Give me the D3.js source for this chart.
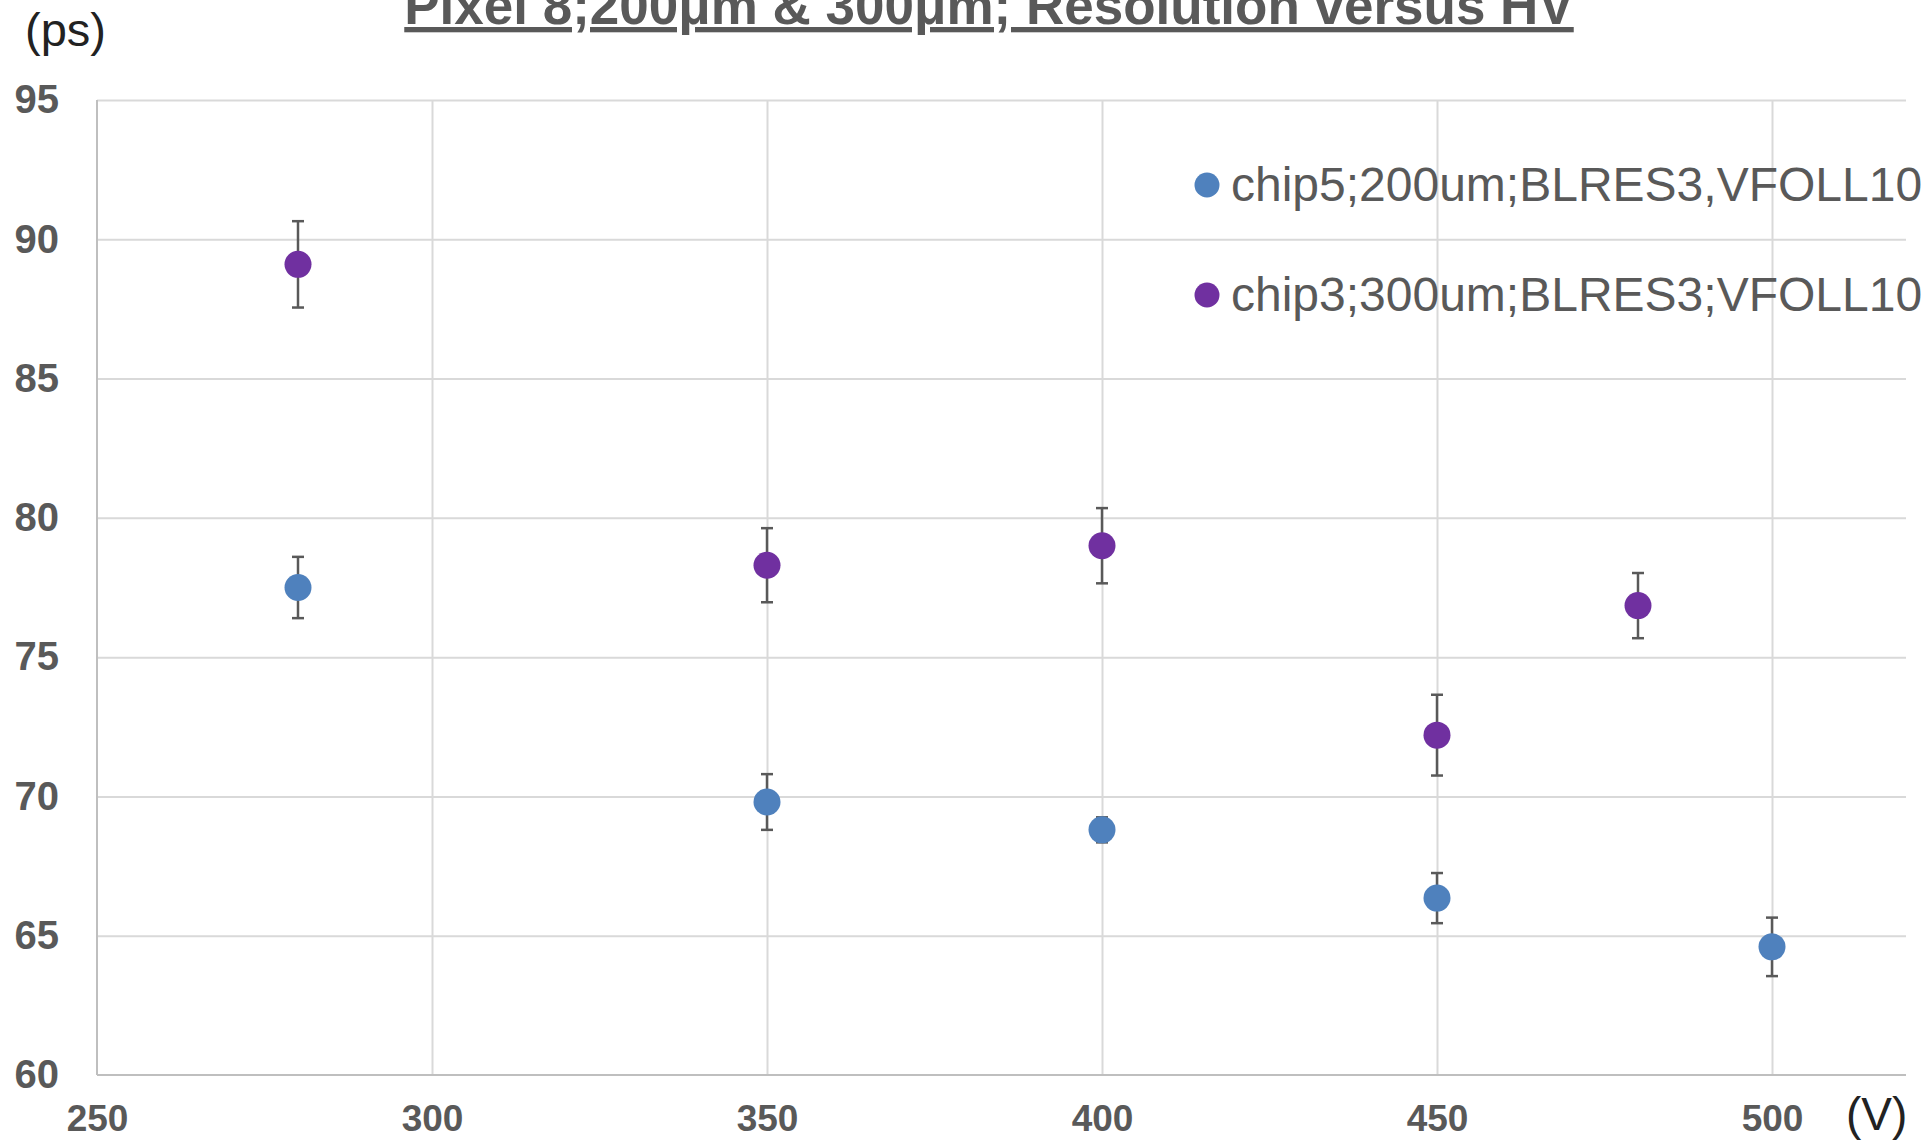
<!DOCTYPE html>
<html>
<head>
<meta charset="utf-8">
<script src="https://cdn.jsdelivr.net/npm/d3@7"></script>
<style>
    body { margin: 0; background: #fff; }
    svg { display: block; font-family: "Liberation Sans", Arial, sans-serif; }
</style>
</head>
<body>
<svg id="chart"></svg>
<script>
// time resolution (ps) vs bias voltage (V)
const hv200 = [280, 350, 400, 450, 500];
const res200 = [77.5, 69.8, 68.8, 66.35, 64.6];
const err200 = [1.1, 1.0, 0.45, 0.9, 1.05];

const hv300 = [280, 350, 400, 450, 480];
const res300 = [89.1, 78.3, 79.0, 72.2, 76.85];
const err300 = [1.55, 1.33, 1.35, 1.45, 1.17];

const seriesNames = ["chip5;200um;BLRES3,VFOLL10", "chip3;300um;BLRES3;VFOLL10"];
const seriesColors = ["#4f81bd", "#7030a0"];

const xTicks = [250, 300, 350, 400, 450, 500];
const yTicks = [60, 65, 70, 75, 80, 85, 90, 95];

const titleText = "Pixel 8;200\u03bcm & 300\u03bcm; Resolution versus HV";

var width = 1931, height = 1141;
var margin = {top: 100, right: 25, bottom: 66, left: 97};

var svg = d3.select("#chart")
    .attr("width", width)
    .attr("height", height);

var x = d3.scaleLinear().domain([250, 520]).range([margin.left, width - margin.right]);
var y = d3.scaleLinear().domain([60, 95]).range([height - margin.bottom, margin.top]);

// gridlines
var gridY = svg.append("g")
    .attr("transform", "translate(" + margin.left + ",0)")
    .call(d3.axisLeft(y).tickValues(yTicks.slice(1)).tickSize(-(width - margin.left - margin.right)).tickFormat(""));
var gridX = svg.append("g")
    .attr("transform", "translate(0," + (height - margin.bottom) + ")")
    .call(d3.axisBottom(x).tickValues(xTicks.slice(1)).tickSize(-(height - margin.top - margin.bottom)).tickFormat(""));
[gridY, gridX].forEach(function(g) {
    g.select(".domain").remove();
    g.selectAll("line").attr("stroke", "#d9d9d9").attr("stroke-width", 2);
});

// axis lines
svg.append("line")
    .attr("x1", x(250)).attr("x2", x(250))
    .attr("y1", y(95)).attr("y2", y(60))
    .attr("stroke", "#bfbfbf").attr("stroke-width", 2);
svg.append("line")
    .attr("x1", x(250)).attr("x2", x(520))
    .attr("y1", y(60)).attr("y2", y(60))
    .attr("stroke", "#bfbfbf").attr("stroke-width", 2);

// tick labels
var yAxis = svg.append("g")
    .attr("transform", "translate(" + margin.left + ",0)")
    .call(d3.axisLeft(y).tickValues(yTicks).tickSize(0).tickPadding(38));
var xAxis = svg.append("g")
    .attr("transform", "translate(0," + (height - margin.bottom) + ")")
    .call(d3.axisBottom(x).tickValues(xTicks).tickSize(0));
xAxis.selectAll("text").attr("y", 56).attr("dy", 0);
[yAxis, xAxis].forEach(function(g) {
    g.select(".domain").remove();
    g.selectAll("text")
        .attr("fill", "#595959")
        .style("font-family", "Liberation Sans, Arial, sans-serif")
        .style("font-weight", "bold");
});
yAxis.selectAll("text").style("font-size", "40px");
xAxis.selectAll("text").style("font-size", "37px");

// unit labels
svg.append("text")
    .attr("x", 25).attr("y", 46)
    .attr("fill", "#222")
    .style("font-size", "47px")
    .text("(ps)");
svg.append("text")
    .attr("x", 1846).attr("y", 1130)
    .attr("fill", "#222")
    .style("font-size", "46px")
    .text("(V)");

// title (top is cut off in the original)
svg.append("text")
    .attr("x", 989).attr("y", 24)
    .attr("text-anchor", "middle")
    .attr("fill", "#595959")
    .style("font-size", "53px")
    .style("font-weight", "bold")
    .style("text-decoration", "underline")
    .text(titleText);

// points with error bars
var series = [
    {hv: hv200, res: res200, err: err200},
    {hv: hv300, res: res300, err: err300}
];

series.forEach(function(s, i) {
    var pts = s.hv.map(function(v, j) { return {hv: v, res: s.res[j], err: s.err[j]}; });
    var g = svg.append("g");

    var bars = g.selectAll(".bar").data(pts).enter().append("g")
        .attr("stroke", "#595959")
        .attr("stroke-width", 2.5);
    bars.append("line")
        .attr("x1", function(d) { return x(d.hv); })
        .attr("x2", function(d) { return x(d.hv); })
        .attr("y1", function(d) { return y(d.res + d.err); })
        .attr("y2", function(d) { return y(d.res - d.err); });
    bars.append("line")
        .attr("x1", function(d) { return x(d.hv) - 6; })
        .attr("x2", function(d) { return x(d.hv) + 6; })
        .attr("y1", function(d) { return y(d.res + d.err); })
        .attr("y2", function(d) { return y(d.res + d.err); });
    bars.append("line")
        .attr("x1", function(d) { return x(d.hv) - 6; })
        .attr("x2", function(d) { return x(d.hv) + 6; })
        .attr("y1", function(d) { return y(d.res - d.err); })
        .attr("y2", function(d) { return y(d.res - d.err); });

    g.selectAll("circle").data(pts).enter().append("circle")
        .attr("cx", function(d) { return x(d.hv); })
        .attr("cy", function(d) { return y(d.res); })
        .attr("r", 13.5)
        .attr("fill", seriesColors[i]);
});

// legend, no box
var legend = svg.append("g").attr("transform", "translate(1207,185)");
var items = legend.selectAll("g").data(seriesNames).enter().append("g")
    .attr("transform", function(d, i) { return "translate(0," + (i * 110) + ")"; });
items.append("circle")
    .attr("r", 12.5)
    .attr("fill", function(d, i) { return seriesColors[i]; });
items.append("text")
    .attr("x", 24).attr("y", 16)
    .attr("fill", "#595959")
    .style("font-size", "48px")
    .text(function(d) { return d; });
</script>
</body>
</html>
